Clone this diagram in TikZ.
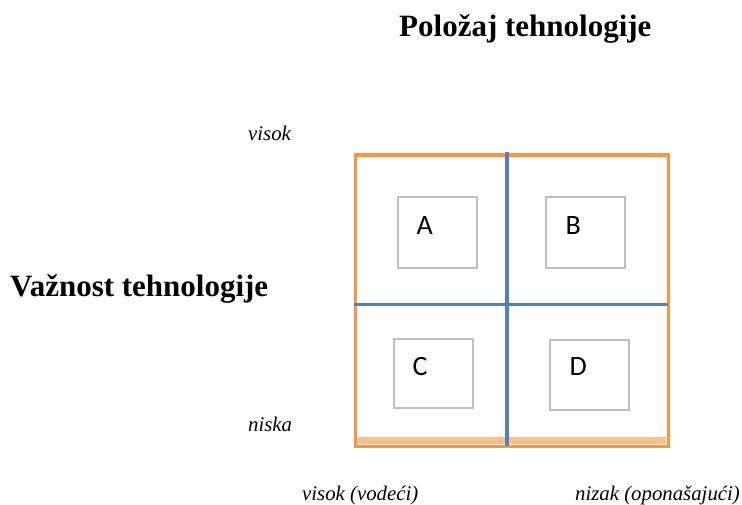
\documentclass[tikz,border=0pt]{standalone}
\usepackage{fontspec}
\setmainfont{Liberation Serif}
\newfontfamily\boxfont{Carlito}
\definecolor{frameorange}{HTML}{F79646}
\definecolor{bandorange}{HTML}{FBBE8C}
\definecolor{lightband}{HTML}{FDE9D9}
\definecolor{quadblue}{HTML}{4F81BD}
\definecolor{boxgray}{HTML}{BFBFBF}
\begin{document}
\begin{tikzpicture}[x=1pt,y=-1pt,
  title/.style={font=\fontsize{31}{31}\selectfont\bfseries, anchor=base west, inner sep=0pt},
  axislabel/.style={font=\fontsize{20.8}{20.8}\selectfont\itshape, anchor=base west, inner sep=0pt},
  cellbox/.style={draw=boxgray, line width=2pt, anchor=north west, inner sep=0pt},
  letter/.style={font=\boxfont\fontsize{28}{28}\selectfont, anchor=base west, inner sep=0pt}]
\useasboundingbox (0,0) rectangle (742,505);
% bands
\fill[lightband] (355,154) rectangle (666,158.5);
\fill[bandorange] (355,437) rectangle (666,444);
% frame
\node[draw=frameorange, line width=3.2pt, minimum width=312.5pt, minimum height=291pt, inner sep=0pt, anchor=north west] (frame) at (354,153.5) {};
% quadrant lines
\coordinate (vtop) at (507.3,152);
\coordinate (vbot) at (507.3,446);
\coordinate (hleft) at (354,304.3);
\coordinate (hright) at (668,304.3);
\draw[quadblue, line width=3pt] (hleft) -- (hright);
\draw[quadblue, line width=4pt] (vtop) -- (vbot);
% boxes
\node[cellbox, minimum width=79pt, minimum height=71pt] (boxA) at (396.7,195.7) {};
\node[cellbox, minimum width=79pt, minimum height=71pt] (boxB) at (544.7,195.7) {};
\node[cellbox, minimum width=79pt, minimum height=69pt] (boxC) at (392.7,338) {};
\node[cellbox, minimum width=79pt, minimum height=70pt] (boxD) at (548.7,338.5) {};
\node[letter] (lA) at (416.5,235) {A};
\node[letter] (lB) at (565.5,235) {B};
\node[letter] (lC) at (412.5,375) {C};
\node[letter] (lD) at (569.5,375) {D};
% titles
\node[title] (t1) at (399,37) {Položaj tehnologije};
\node[title] (t2) at (10,296.5) {Važnost tehnologije};
% axis labels
\node[axislabel] (vis) at (248,141) {visok};
\node[axislabel] (nis) at (248,431) {niska};
\node[axislabel] (vv) at (302,500) {visok (vodeći)};
\node[axislabel] (no) at (575,500) {nizak (oponašajući)};
\end{tikzpicture}
\end{document}
